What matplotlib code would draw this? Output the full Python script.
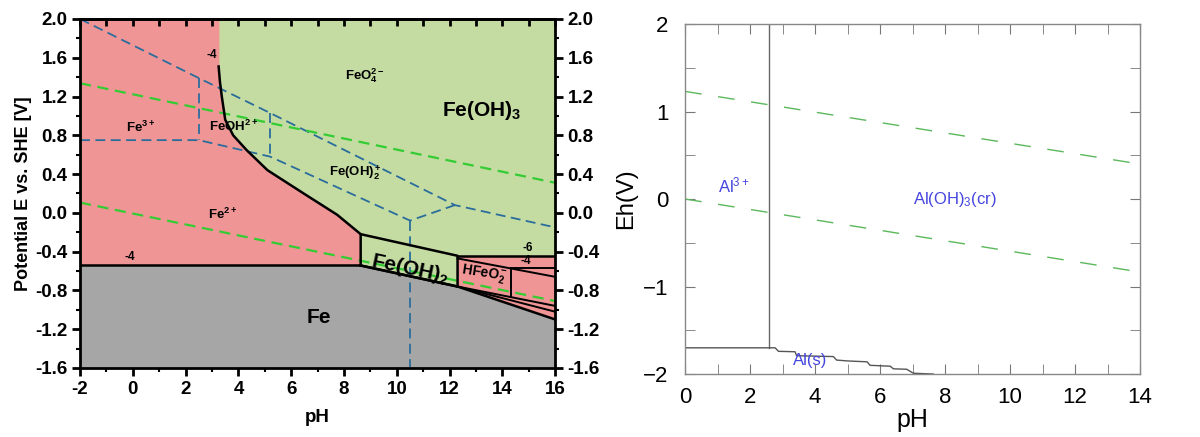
import numpy as np
import matplotlib.pyplot as plt
from matplotlib.ticker import MultipleLocator, FuncFormatter

plt.rcParams['font.family'] = ['Liberation Sans', 'DejaVu Sans']
plt.rcParams['mathtext.fontset'] = 'custom'
plt.rcParams['mathtext.rm'] = 'Liberation Sans'
plt.rcParams['mathtext.bf'] = 'Liberation Sans:bold'
plt.rcParams['mathtext.it'] = 'Liberation Sans:italic'

# ---- 左图 Fe Pourbaix 数据 ----
fe_floor_ph = [-2, 8.63, 12.3, 16]
fe_floor_e = [-0.543, -0.543, -0.76, -1.10]

# Fe2+ / Fe(OH)3 边界曲线
curve_ph = [3.25, 3.3, 3.37, 3.5, 3.8, 4.3, 5.1, 6.47, 7.74, 8.63]
curve_e = [1.51, 1.35, 1.2, 0.96, 0.80, 0.65, 0.44, 0.20, -0.02, -0.22]

feoh2_ph = [8.63, 8.63, 12.3, 12.3]
feoh2_e = [-0.543, -0.22, -0.443, -0.76]

hfeo2_top = -0.443
# 右下角细线 (起点, 终点)
hfeo2_lines = [
    ((12.3, -0.47), (16, -0.66)),
    ((14.32, -0.57), (16, -0.57)),
    ((14.32, -0.57), (14.32, -0.87)),
    ((12.3, -0.76), (16, -0.96)),
    ((12.3, -0.76), (16, -1.02)),
]

# 蓝色虚线
blue_lines = [
    ([-2, 2.5, 5.2, 12.2, 16], [2.0, 1.39, 1.03, 0.08, -0.15]),
    ([-2, 2.5, 5.2, 10.5, 12.2], [0.75, 0.75, 0.58, -0.08, 0.08]),
    ([2.5, 2.5], [1.39, 0.75]),
    ([5.2, 5.2], [1.03, 0.58]),
    ([10.5, 10.5], [-0.08, -1.6]),
]

# 水的稳定线
water_ph = [-2, 16]
water_upper = [1.337, 0.31]
water_lower = [0.106, -0.91]

# ---- 右图 Al 数据 ----
al_vert_ph = [2.58, 2.58]
al_vert_e = [2.0, -1.70]
al_step_ph = [0, 2.58, 2.77, 2.87, 3.38, 3.43, 4.56, 4.66, 5.0, 5.6, 5.69, 6.31, 6.41, 6.82, 7.02, 7.64]
al_step_e = [-1.70, -1.70, -1.70, -1.74, -1.745, -1.79, -1.80, -1.84, -1.85, -1.86, -1.90, -1.91, -1.94, -1.945, -1.99, -2.0]
al_water_ph = [0, 14]
al_water_upper = [1.23, 0.40]
al_water_lower = [0.0, -0.834]

pink = '#f09595'
green = '#c4dca2'
gray = '#a6a6a6'
blue = '#2a6d9c'
lgreen = '#33cc33'

fig = plt.figure(figsize=(12, 4.37), dpi=100)

# ================= 左图 =================
ax = fig.add_axes([0.0667, 0.158, 0.396, 0.7986])
ax.set_xlim(-2, 16)
ax.set_ylim(-1.6, 2.0)
ax.set_facecolor(pink)

ax.fill_between(fe_floor_ph, fe_floor_e, -1.6, color=gray, lw=0, zorder=0)

green_x = [3.28, 16, 16, 12.3] + curve_ph[::-1] + [3.28]
green_y = [2.0, 2.0, hfeo2_top, hfeo2_top] + curve_e[::-1] + [1.51]
ax.fill(green_x, green_y, color=green, lw=0, zorder=0)
ax.fill(feoh2_ph, feoh2_e, color=green, lw=0, zorder=0)

for xs, ys in blue_lines:
    ax.plot(xs, ys, color=blue, lw=1.3, ls=(0, (5.5, 3)), zorder=2)
ax.plot(water_ph, water_upper, color=lgreen, lw=1.6, ls=(0, (5, 3)), zorder=2)
ax.plot(water_ph, water_lower, color=lgreen, lw=1.6, ls=(0, (5, 3)), zorder=2)

k = dict(color='black', lw=1.8, zorder=3)
ax.plot(fe_floor_ph, fe_floor_e, **k)
ax.plot(curve_ph, curve_e, **k)
ax.plot(feoh2_ph + [8.63], feoh2_e + [-0.543], **k)
ax.plot([12.3, 16], [hfeo2_top, hfeo2_top], **k)
for (x0, y0), (x1, y1) in hfeo2_lines:
    ax.plot([x0, x1], [y0, y1], color='black', lw=1.4, zorder=3)

t = dict(ha='center', va='center', zorder=4)
ax.text(3.0, 1.63, '-4', fontsize=8.5, fontweight='bold', **t)
ax.text(0.28, 0.88, r'$\mathbf{Fe^{3+}}$', fontsize=9.5, **t)
ax.text(3.8, 0.89, r'$\mathbf{FeOH^{2+}}$', fontsize=9.5, **t)
ax.text(8.8, 1.42, r'$\mathbf{FeO_4^{2-}}$', fontsize=9.5, **t)
ax.text(13.2, 1.06, r'$\mathbf{Fe(OH)_3}$', fontsize=15, **t)
ax.text(8.44, 0.42, r'$\mathbf{Fe(OH)_2^+}$', fontsize=9.5, **t)
ax.text(3.4, -0.02, r'$\mathbf{Fe^{2+}}$', fontsize=9.5, **t)
ax.text(-0.1, -0.46, '-4', fontsize=8.5, fontweight='bold', **t)
ax.text(7.03, -1.08, 'Fe', fontsize=15, fontweight='bold', **t)
ax.text(10.5, -0.58, r'$\mathbf{Fe(OH)_2}$', fontsize=15, rotation=-12, **t)
ax.text(13.3, -0.63, r'$\mathbf{HFeO_2^-}$', fontsize=10, rotation=-9, **t)
ax.text(14.96, -0.36, '-6', fontsize=8.5, fontweight='bold', **t)
ax.text(14.9, -0.50, '-4', fontsize=8.5, fontweight='bold', **t)

ax.xaxis.set_major_locator(MultipleLocator(2))
ax.xaxis.set_minor_locator(MultipleLocator(1))
ax.yaxis.set_major_locator(MultipleLocator(0.4))
ax.yaxis.set_minor_locator(MultipleLocator(0.2))
ax.xaxis.set_major_formatter(FuncFormatter(lambda v, p: '%d' % round(v)))
ax.yaxis.set_major_formatter(FuncFormatter(lambda v, p: ('%.1f' % v).replace('-0.0', '0.0')))
ax.tick_params(axis='both', which='major', direction='out', length=6, width=2, labelsize=13.5)
ax.tick_params(axis='both', which='minor', direction='out', length=3, width=1.5)
ax.tick_params(axis='y', which='both', right=True, labelright=True, pad=3)
for lab in ax.get_xticklabels() + ax.get_yticklabels():
    lab.set_fontweight('bold')
for s in ax.spines.values():
    s.set_linewidth(2)
top = ax.secondary_xaxis('top')
top.set_xticks(range(-2, 17))
top.tick_params(direction='in', length=5, width=2, labeltop=False)
top.spines['top'].set_linewidth(2)
ax.set_xlabel('pH', fontsize=13.5, fontweight='bold', labelpad=8)
ax.set_ylabel('Potential E vs. SHE [V]', fontsize=13, fontweight='bold', labelpad=2)

# ================= 右图 =================
ax2 = fig.add_axes([0.571, 0.144, 0.379, 0.801])
ax2.set_xlim(0, 14)
ax2.set_ylim(-2, 2)
ax2.plot(al_vert_ph, al_vert_e, color='#666666', lw=1)
ax2.plot(al_step_ph, al_step_e, color='#555555', lw=1)
ax2.plot(al_water_ph, al_water_upper, color='#5cb85c', lw=1, ls=(0, (12, 12)))
ax2.plot(al_water_ph, al_water_lower, color='#5cb85c', lw=1, ls=(0, (12, 12)))

c = '#4545e0'
ax2.text(1.49, 0.16, 'Al$^{3+}$', color=c, fontsize=12, ha='center', va='center')
ax2.text(8.3, 0.0, 'Al(OH)$_3$(cr)', color=c, fontsize=12, ha='center', va='center')
ax2.text(3.85, -1.84, 'Al(s)', color=c, fontsize=12, ha='center', va='center')

ax2.xaxis.set_major_locator(MultipleLocator(2))
ax2.xaxis.set_minor_locator(MultipleLocator(1))
ax2.yaxis.set_major_locator(MultipleLocator(1))
ax2.yaxis.set_minor_locator(MultipleLocator(0.5))
ax2.tick_params(axis='both', which='both', direction='in', length=7, color='#777777',
                top=True, right=True, labelsize=16)
ax2.tick_params(axis='x', which='major', pad=9)
ax2.tick_params(axis='y', which='major', pad=12)
for s in ax2.spines.values():
    s.set_color('#888888')
    s.set_linewidth(1)
ax2.set_xlabel('pH', fontsize=18, labelpad=0)
ax2.set_ylabel('Eh(V)', fontsize=17, labelpad=4)

fig.savefig('out.png', dpi=100)
